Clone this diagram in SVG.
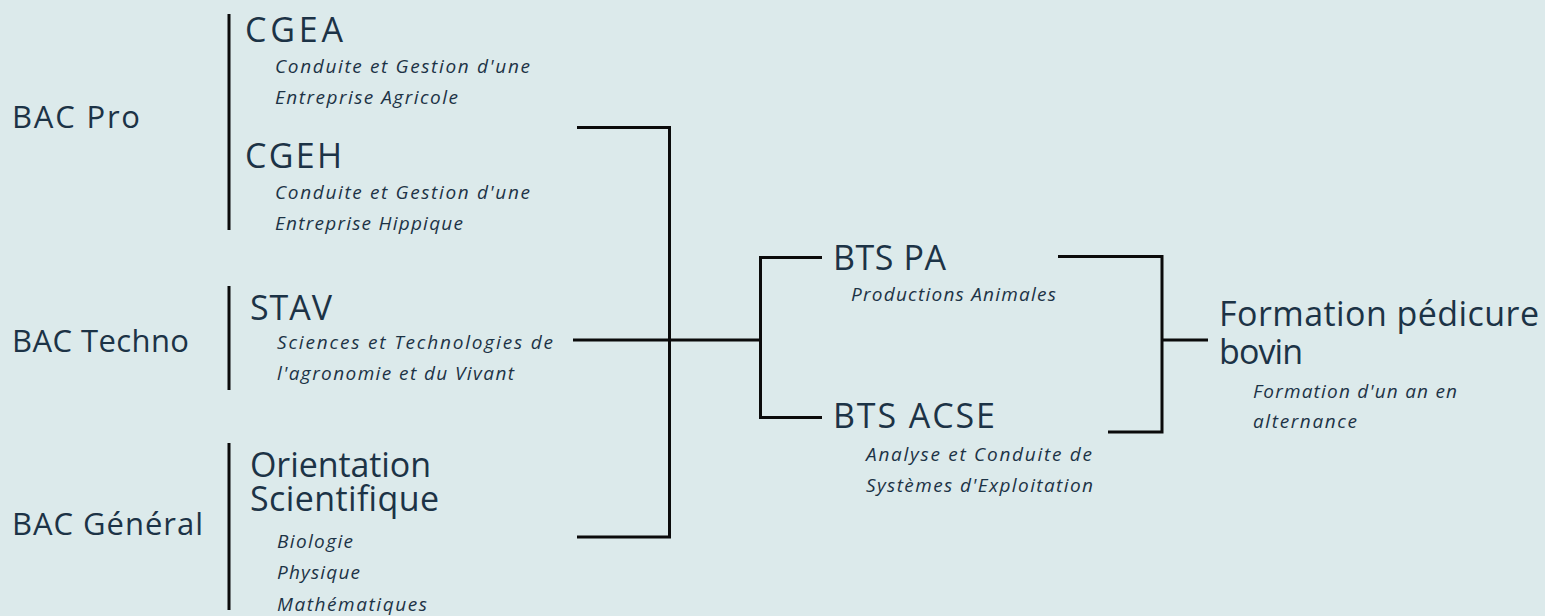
<svg xmlns="http://www.w3.org/2000/svg" width="1545" height="616" viewBox="0 0 1545 616">
<style>
.bg{fill:#dceaeb}
.t{font-family:"Open Sans","Noto Sans","Liberation Sans",sans-serif;fill:#1c3346}
.bac{font-size:31px}
.h{font-size:34px}
.s{font-size:19px;font-style:italic}
.ln{stroke:#0b0b0b;stroke-width:3;fill:none}
</style>
<rect class="bg" width="1545" height="616"/>
<g id="bac-pro">
<text class="t bac" x="12" y="128" textLength="128" lengthAdjust="spacing">BAC Pro</text>
</g>
<g id="bac-techno">
<text class="t bac" x="12" y="352" textLength="177" lengthAdjust="spacing">BAC Techno</text>
</g>
<g id="bac-general">
<text class="t bac" x="12" y="535" textLength="191" lengthAdjust="spacing">BAC Général</text>
</g>
<g id="cgea">
<text class="t h" x="245" y="42" textLength="98" lengthAdjust="spacing">CGEA</text>
<text class="t s" x="275" y="73" textLength="255" lengthAdjust="spacing">Conduite et Gestion d'une</text>
<text class="t s" x="275" y="104" textLength="183" lengthAdjust="spacing">Entreprise Agricole</text>
</g>
<g id="cgeh">
<text class="t h" x="245" y="168" textLength="97" lengthAdjust="spacing">CGEH</text>
<text class="t s" x="275" y="199" textLength="255" lengthAdjust="spacing">Conduite et Gestion d'une</text>
<text class="t s" x="275" y="230" textLength="188" lengthAdjust="spacing">Entreprise Hippique</text>
</g>
<g id="stav">
<text class="t h" x="250" y="320" textLength="82" lengthAdjust="spacing">STAV</text>
<text class="t s" x="277" y="349" textLength="276" lengthAdjust="spacing">Sciences et Technologies de</text>
<text class="t s" x="277" y="380" textLength="237" lengthAdjust="spacing">l'agronomie et du Vivant</text>
</g>
<g id="orientation">
<text class="t h" x="250" y="477" textLength="181" lengthAdjust="spacing">Orientation</text>
<text class="t h" x="250" y="511" textLength="189" lengthAdjust="spacing">Scientifique</text>
<text class="t s" x="277" y="548" textLength="76" lengthAdjust="spacing">Biologie</text>
<text class="t s" x="277" y="579" textLength="83" lengthAdjust="spacing">Physique</text>
<text class="t s" x="277" y="611" textLength="150" lengthAdjust="spacing">Mathématiques</text>
</g>
<g id="bts-pa">
<text class="t h" x="833" y="270" textLength="113" lengthAdjust="spacing">BTS PA</text>
<text class="t s" x="851" y="301" textLength="205" lengthAdjust="spacing">Productions Animales</text>
</g>
<g id="bts-acse">
<text class="t h" x="833" y="428" textLength="162" lengthAdjust="spacing">BTS ACSE</text>
<text class="t s" x="866" y="461" textLength="226" lengthAdjust="spacing">Analyse et Conduite de</text>
<text class="t s" x="866" y="492" textLength="227" lengthAdjust="spacing">Systèmes d'Exploitation</text>
</g>
<g id="formation">
<text class="t h" x="1219" y="326" textLength="320" lengthAdjust="spacing">Formation pédicure</text>
<text class="t h" x="1219" y="364" textLength="84" lengthAdjust="spacing">bovin</text>
<text class="t s" x="1253" y="398" textLength="204" lengthAdjust="spacing">Formation d'un an en</text>
<text class="t s" x="1253" y="428" textLength="104" lengthAdjust="spacing">alternance</text>
</g>
<g id="connectors">
<line class="ln" x1="229" y1="14" x2="229" y2="230"/>
<line class="ln" x1="229" y1="286" x2="229" y2="390"/>
<line class="ln" x1="229" y1="443" x2="229" y2="610"/>
<polyline class="ln" points="577,127.5 669.5,127.5 669.5,537 577,537"/>
<line class="ln" x1="573" y1="340" x2="760" y2="340"/>
<polyline class="ln" points="822,257.5 760.5,257.5 760.5,417.5 822,417.5"/>
<polyline class="ln" points="1058,256.5 1162,256.5 1162,432 1108,432"/>
<line class="ln" x1="1162" y1="340" x2="1208" y2="340"/>
</g>
</svg>
